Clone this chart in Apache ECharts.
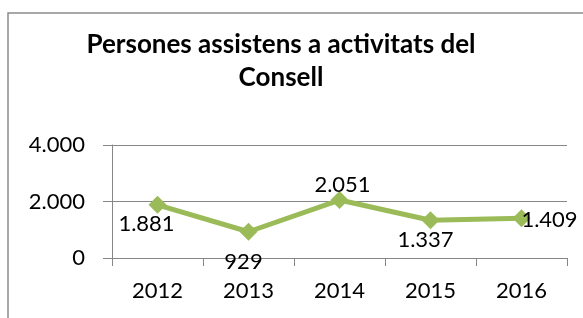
<!DOCTYPE html>
<html>
<head>
<meta charset="utf-8">
<script src="https://cdn.jsdelivr.net/npm/echarts@6/dist/echarts.min.js"></script>
<style>
  html, body { margin: 0; padding: 0; background: #fff; }
  #chart { width: 583px; height: 318px; }
</style>
</head>
<body>
<div id="chart"></div>
<script>
// dades del gràfic
const titleLines = ["Persones assistens a activitats del", "Consell"]
const years = ["2012", "2013", "2014", "2015", "2016"]
const persones = [1881, 929, 2051, 1337, 1409]
const yTicks = [0, 2000, 4000]

// on va cada etiqueta respecte al punt (com a l'original)
const labelOffsets = [[-11, 19], [-5, 30], [3, -15], [-5, 20], [28, 2]]

const fmt = (v) => String(v).replace(/\B(?=(\d{3})+(?!\d))/g, ".")

const font = "Lato, 'Open Sans', sans-serif"

const chart = echarts.init(document.getElementById("chart"))

const option = {
  animation: false,
  backgroundColor: "#fff",
  graphic: [
    {
      type: "rect",
      shape: { x: 8, y: 13, width: 700, height: 400 },
      style: { fill: "none", stroke: "#8c8c8c", lineWidth: 1.5 },
      silent: true
    },
    {
      type: "text",
      x: 281,
      y: 45,
      style: {
        text: titleLines[0],
        textAlign: "center",
        textVerticalAlign: "middle",
        font: "bold 26px " + font,
        fill: "#000"
      }
    },
    {
      type: "text",
      x: 281,
      y: 78,
      style: {
        text: titleLines[1],
        textAlign: "center",
        textVerticalAlign: "middle",
        font: "bold 26px " + font,
        fill: "#000"
      }
    }
  ],
  grid: { left: 112, right: 16, top: 145, bottom: 60 },
  xAxis: {
    type: "category",
    data: years,
    boundaryGap: true,
    axisLine: { lineStyle: { color: "#868686", width: 1 } },
    axisTick: { show: true, length: 8, lineStyle: { color: "#868686" } },
    axisLabel: { color: "#000", fontFamily: font, fontSize: 22, margin: 22 },
    splitLine: { show: false }
  },
  yAxis: {
    type: "value",
    min: yTicks[0],
    max: yTicks[yTicks.length - 1],
    interval: yTicks[1] - yTicks[0],
    axisLine: { show: true, lineStyle: { color: "#868686", width: 1 } },
    axisTick: { show: true, length: 9, lineStyle: { color: "#868686" } },
    axisLabel: {
      color: "#000",
      fontFamily: font,
      fontSize: 22,
      margin: 27,
      formatter: (v) => fmt(v)
    },
    splitLine: { show: true, lineStyle: { color: "#868686", width: 1 } }
  },
  series: [{
    type: "line",
    data: persones.map((v, i) => ({
      value: v,
      label: { position: "inside", offset: labelOffsets[i] }
    })),
    symbol: "diamond",
    symbolSize: 18,
    lineStyle: { color: "#9bbb59", width: 5 },
    itemStyle: { color: "#9bbb59" },
    label: {
      show: true,
      color: "#000",
      fontFamily: font,
      fontSize: 22,
      formatter: (p) => fmt(p.value)
    }
  }]
}

chart.setOption(option)
</script>
</body>
</html>
